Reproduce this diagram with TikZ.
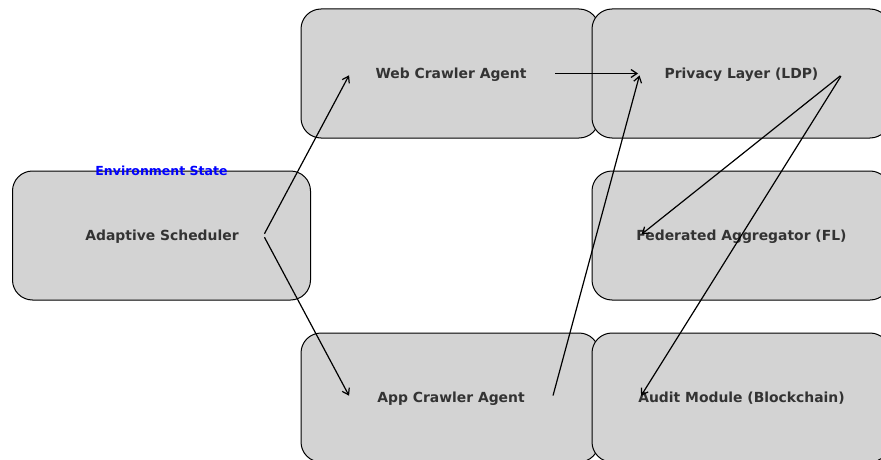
\documentclass[tikz,border=0pt]{standalone}
\usepackage{fontspec}
\setmainfont{DejaVu Sans}
\usetikzlibrary{arrows.meta,calc}
\definecolor{txtgray}{HTML}{333333}
\definecolor{boxfill}{HTML}{D3D3D3}
\begin{document}
\begin{tikzpicture}[x=1pt,y=-1pt,
  box/.style={draw=black, line width=1pt, fill=boxfill, rounded corners=20pt,
    minimum width=298pt, minimum height=129pt, inner sep=0pt,
    font=\fontsize{13.9}{16}\selectfont\bfseries, text=txtgray},
  lbl/.style={inner sep=0pt, font=\fontsize{13.9}{16}\selectfont\bfseries, text=txtgray},
  conn/.style={-{Straight Barb[length=6pt,width=8pt]}, line width=1.2pt,
    shorten <=2pt, shorten >=2pt},
  envlabel/.style={text=blue, font=\fontsize{12.5}{14}\selectfont\bfseries, inner sep=0pt}]
\useasboundingbox (0,0) rectangle (881,460);
\clip (0,0) rectangle (881,460);
\node[box] (sched) at (161.5,235.5) {};
\node[box] (web) at (450,73.5) {};
\node[box] (app) at (450,397.5) {};
\node[box] (priv) at (741,73.5) {};
\node[box] (fed) at (741,235.5) {};
\node[box] (audit) at (741,397.5) {};
\node[lbl] (schedT) at (162,236.5) {Adaptive Scheduler};
\node[lbl] (webT) at (451,74.5) {Web Crawler Agent};
\node[lbl] (appT) at (451,398.5) {App Crawler Agent};
\node[lbl] (privT) at (741.5,74.5) {Privacy Layer (LDP)};
\node[lbl] (fedT) at (741.5,236.5) {Federated Aggregator (FL)};
\node[lbl] (auditT) at (741.5,398.5) {Audit Module (Blockchain)};
\node[envlabel] (env) at (161.5,171) {Environment State};
\coordinate (schedR) at ($(sched.center)+(102,0)$);
\coordinate (webL) at ($(web.center)+(-100,0)$);
\coordinate (webR) at ($(web.center)+(103,0)$);
\coordinate (appL) at ($(app.center)+(-100,0)$);
\coordinate (appR) at ($(app.center)+(102.5,0)$);
\coordinate (privL) at ($(priv.center)+(-101,0)$);
\coordinate (privR) at ($(priv.center)+(101,1)$);
\coordinate (fedL) at ($(fed.center)+(-101,0)$);
\coordinate (auditL) at ($(audit.center)+(-101,0)$);
\draw[conn] (schedR) -- (webL);
\draw[conn] (schedR) -- (appL);
\draw[conn] (webR) -- (privL);
\draw[conn] (appR) -- (privL);
\draw[conn] (privR) -- (fedL);
\draw[conn] (privR) -- (auditL);
\end{tikzpicture}
\end{document}
